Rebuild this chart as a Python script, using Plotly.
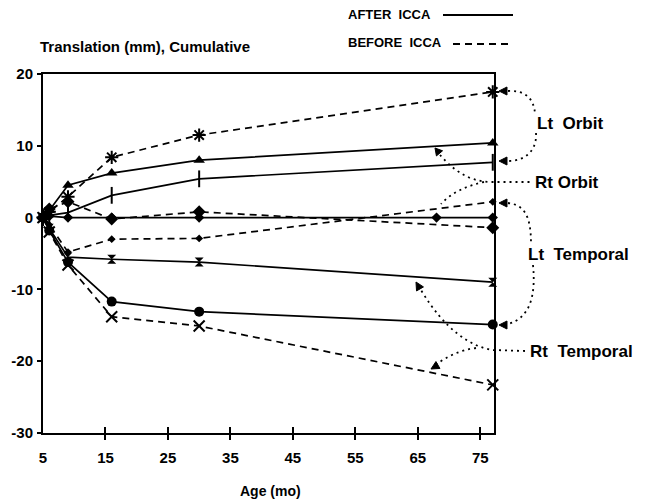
import plotly.graph_objects as go
import math

# ---------------- data ----------------
ages = [5, 6, 9, 16, 30, 77]
ages_flat = [5, 6, 9, 16, 30, 68, 77]

after_triangle = [0, 1.0, 4.5, 6.2, 8.0, 10.4]
after_plus = [0, 0.3, 0.7, 3.1, 5.4, 7.7]
after_flat = [0, 0.2, 0.0, 0.0, 0.0, 0.0, 0.0]
after_hourglass = [0, -1.5, -5.5, -5.8, -6.2, -9.0]
after_circle = [0, -1.8, -6.2, -11.7, -13.1, -14.9]

before_star = [0, 0.8, 2.9, 8.4, 11.5, 17.5]
before_diamond = [0, 1.2, 2.2, -0.2, 0.8, -1.4]
before_dot = [0, -1.0, -4.8, -3.0, -2.9, 2.2]
before_x = [0, -2.0, -6.6, -13.8, -15.1, -23.3]

x_ticks = [5, 15, 25, 35, 45, 55, 65, 75]
y_ticks = [20, 10, 0, -10, -20, -30]

# ---------------- layout geometry ----------------
# page pixel coordinates of the plot box; the page body adds an 8px offset
OFF = 8
W, H = 647 - OFF, 500 - OFF
L, R, T, B = 43, 494, 74, 433
FONT = "Liberation Sans"


def pxx(x):
    return (x - L) / (R - L)


def pyy(y):
    return (B - y) / (B - T)


fig = go.Figure()


def add(xs, ys, dash, symbol, size, lw_marker=0):
    fig.add_trace(go.Scatter(
        x=xs, y=ys, mode="lines+markers",
        line=dict(color="black", width=1.7, dash=dash),
        marker=dict(symbol=symbol, size=size, color="black",
                    line=dict(color="black", width=lw_marker)),
        showlegend=False, cliponaxis=False,
    ))


add(ages, after_triangle, "solid", "triangle-up", 10)
add(ages, after_plus, "solid", "line-ns", 12, 2)
add(ages_flat, after_flat, "solid", "diamond", 8)
add(ages, after_hourglass, "solid", "hourglass", 9)
add(ages, after_circle, "solid", "circle", 10)
add(ages, before_star, "7px,5px", "asterisk-open", 11, 2)
add(ages, before_diamond, "7px,5px", "diamond", 10)
add(ages, before_dot, "7px,5px", "diamond", 6)
add(ages, before_x, "7px,5px", "x-thin-open", 11, 2)

# overlay axis to get ticks crossing the x axis line
fig.add_trace(go.Scatter(x=[5], y=[0], xaxis="x2", mode="markers",
                         marker=dict(opacity=0), showlegend=False, hoverinfo="skip"))

tickfont = dict(family=FONT, size=15, color="black", weight="bold")

fig.update_layout(
    width=W, height=H,
    margin=dict(l=L - OFF, r=W - (R - OFF), t=T - OFF, b=H - (B - OFF), autoexpand=False),
    paper_bgcolor="white", plot_bgcolor="white",
    xaxis=dict(range=[5, 77.2], tickvals=x_ticks, ticktext=[str(v) for v in x_ticks],
               showgrid=False, zeroline=False, showline=True, mirror=True,
               linecolor="black", linewidth=2, ticks="inside", ticklen=6,
               tickwidth=2, tickcolor="black", tickfont=tickfont,
               ticklabelstandoff=10),
    xaxis2=dict(overlaying="x", matches="x", range=[5, 77.2], tickvals=x_ticks[1:],
                showticklabels=False, showgrid=False, zeroline=False,
                ticks="outside", ticklen=6, tickwidth=2, tickcolor="black",
                side="bottom", anchor="y"),
    yaxis=dict(range=[-30, 20], tickvals=y_ticks, ticktext=[str(v) for v in y_ticks],
               showgrid=False, zeroline=False, showline=True, mirror=True,
               linecolor="black", linewidth=2, ticks="outside", ticklen=4,
               tickwidth=1.5, tickcolor="black", tickfont=tickfont,
               ticklabelstandoff=1),
)

ann_font = dict(family=FONT, size=15, color="black", weight="bold")
leg_font = dict(family=FONT, size=13, color="black", weight="bold")
lab_font = dict(family=FONT, size=17, color="black", weight="bold")


def text(s, x, y, font, xanchor="left"):
    fig.add_annotation(text=s, x=pxx(x), y=pyy(y), xref="paper", yref="paper",
                       xanchor=xanchor, yanchor="middle", showarrow=False, font=font)


text("Translation (mm), Cumulative", 38, 46, ann_font)
text("AFTER  ICCA", 346, 14, leg_font)
text("BEFORE  ICCA", 346, 43, leg_font)
text("Age (mo)", 270, 491, dict(family=FONT, size=14, color="black", weight="bold"),
     xanchor="center")
text("Lt  Orbit", 535, 123, lab_font)
text("Rt Orbit", 533, 182, lab_font)
text("Lt  Temporal", 526, 254, lab_font)
text("Rt  Temporal", 528, 351, lab_font)

# legend sample lines
fig.add_shape(type="line", xref="paper", yref="paper",
              x0=pxx(443), x1=pxx(513), y0=pyy(15), y1=pyy(15),
              line=dict(color="black", width=2))
fig.add_shape(type="line", xref="paper", yref="paper",
              x0=pxx(453), x1=pxx(513), y0=pyy(44), y1=pyy(44),
              line=dict(color="black", width=2, dash="7px,5px"))


def path_px(cmds):
    out = []
    for c in cmds:
        if isinstance(c, str):
            out.append(c)
        else:
            out.append(f"{pxx(c[0]):.5f},{pyy(c[1]):.5f}")
    return " ".join(out)


def dotted(cmds):
    fig.add_shape(type="path", xref="paper", yref="paper", path=path_px(cmds),
                  line=dict(color="black", width=1.8, dash="2px,4px"))


def arrowhead(tip, toward_deg, size=8, half=4):
    # toward_deg: direction the arrow points (pixel coords, 0 = right, 90 = down)
    a = math.radians(toward_deg)
    dx, dy = math.cos(a), math.sin(a)
    bx, by = tip[0] - dx * size, tip[1] - dy * size
    nx, ny = -dy, dx
    p1 = (bx + nx * half, by + ny * half)
    p2 = (bx - nx * half, by - ny * half)
    fig.add_shape(type="path", xref="paper", yref="paper",
                  path=path_px(["M", tip, "L", p1, "L", p2, "Z"]),
                  fillcolor="black", line=dict(color="black", width=1))


# Lt Orbit
dotted(["M", (508, 91), "C", (522, 90), (534, 96), (535, 114)])
dotted(["M", (536, 133), "C", (537, 150), (526, 161), (508, 161)])
arrowhead((499, 91), 180)
arrowhead((499, 161), 180)
# Rt Orbit
dotted(["M", (440, 155), "C", (452, 168), (466, 181), (490, 182), "L", (530, 182)])
dotted(["M", (484, 182), "C", (466, 186), (451, 193), (441, 204)])
arrowhead((435, 148), 230, 7, 4)
# Lt Temporal
dotted(["M", (508, 203), "C", (524, 205), (531, 215), (531, 244)])
dotted(["M", (533, 265), "C", (536, 296), (530, 318), (508, 324)])
arrowhead((499, 203), 180)
arrowhead((499, 325), 180)
# Rt Temporal
dotted(["M", (525, 351), "L", (492, 350), "C", (470, 346), (445, 330), (421, 290)])
dotted(["M", (476, 348), "C", (460, 350), (446, 357), (437, 364)])
arrowhead((416, 282), 240, 8, 4)
arrowhead((431, 369), 150, 8, 4)

fig.write_html("out.html")
